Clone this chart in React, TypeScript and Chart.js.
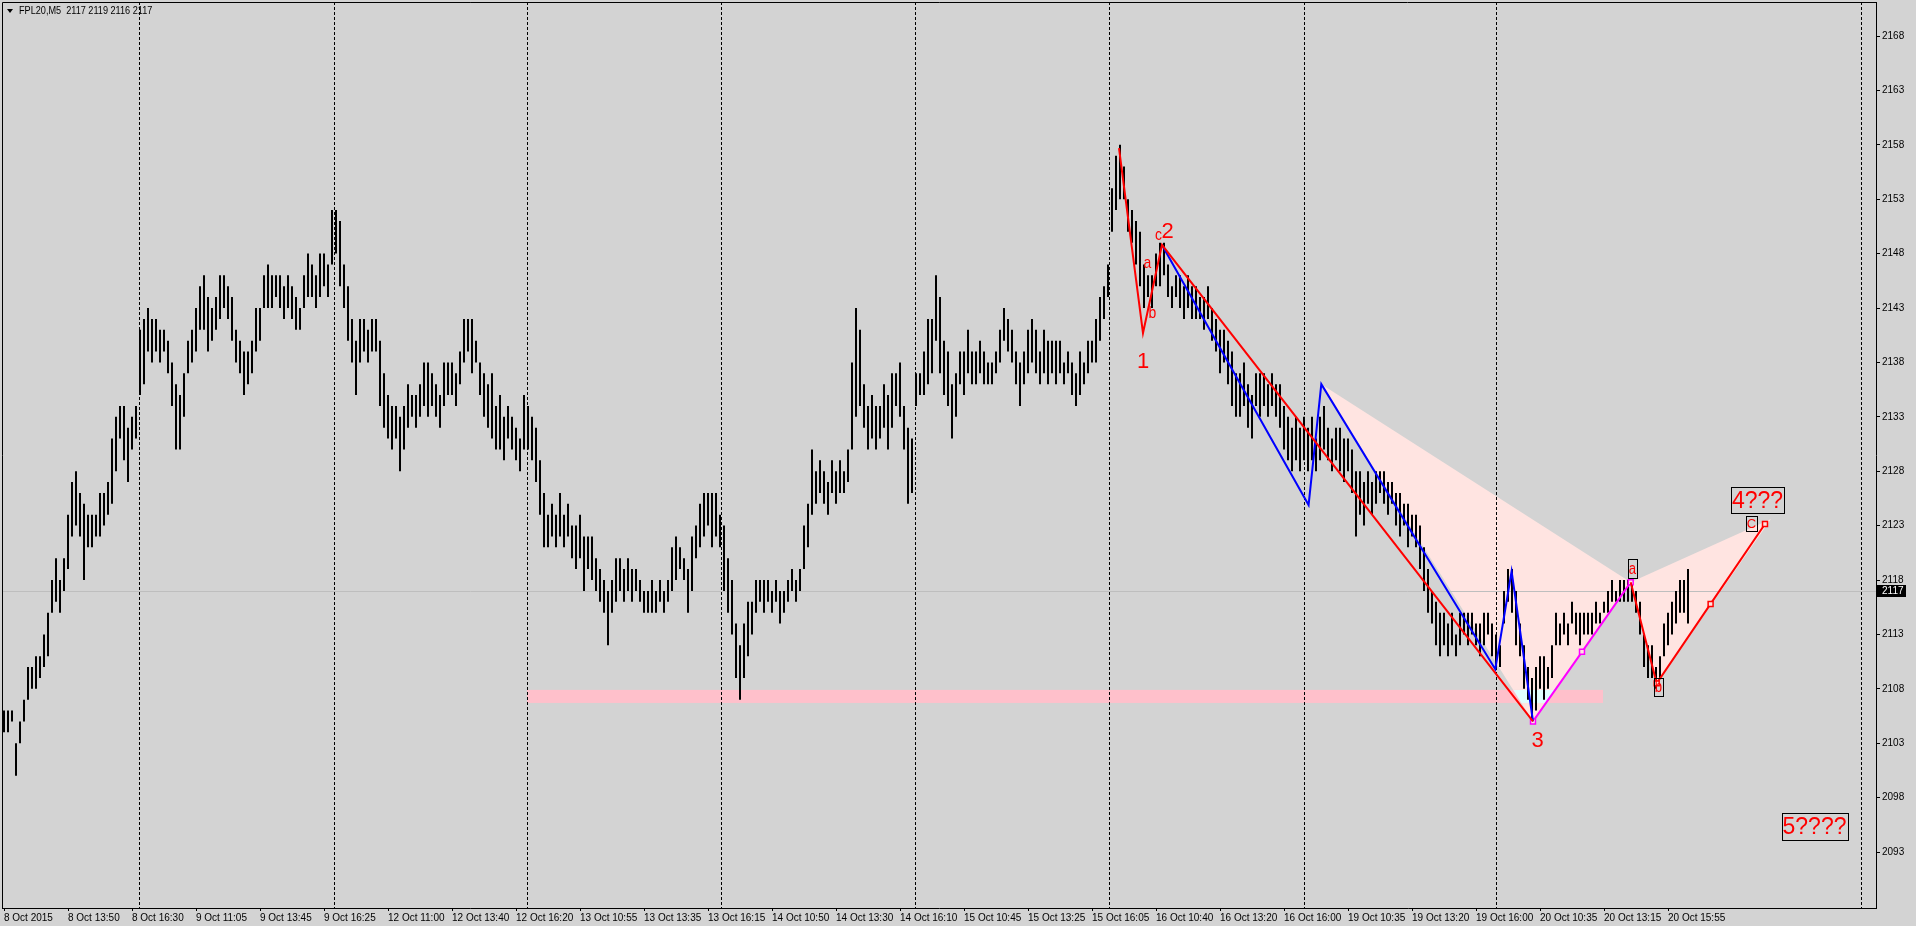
import React, { useEffect, useRef } from 'react';
import { Chart, registerables } from 'chart.js';

Chart.register(...registerables);

// ---- OHLC-style bars (low / high), one every two 5-minute slots ----
const LOWS = [
  2104,2104,2105,2100,2103,2105,2107,2108,2108,2109,2110,2111,2115,2116,2115,2117,2119,2122,2123,2122,2118,2121,2121,2122,2122,2123,2124,2125,2128,2131,2129,2127,2130,2131,
  2135,2136,2139,2138,2139,2138,2139,2137,2134,2130,2130,2133,2137,2138,2139,2141,2141,2139,2140,2141,2142,2143,2142,2140,2138,2137,2135,2136,2137,2139,2140,2143,2143,2143,2144,2143,2142,2143,2142,2141,2141,2143,2144,2144,2143,2144,2145,2144,2147,
  2148,2145,2143,2140,2138,2135,2138,2139,2138,2139,2139,2134,2132,2131,2130,2131,2128,2130,2132,2133,2132,2133,2134,2133,2134,2133,2132,2134,2135,2135,2134,2136,2138,2139,2137,2138,2135,2133,2132,2131,2130,2130,2129,2131,2130,2129,2128,2130,
  2130,2129,2127,2124,2121,2121,2122,2121,2122,2121,2122,2120,2119,2120,2117,2119,2118,2117,2116,2115,2112,2115,2116,2117,2116,2117,2116,2117,2116,2115,2115,2115,2115,2116,2115,2116,2117,2118,2119,2118,2115,2117,2120,2121,2122,2123,2121,2122,2121,
  2117,2115,2113,2109,2107,2109,2111,2113,2115,2116,2115,2116,2115,2116,2114,2115,2116,2117,2116,2117,2119,2121,2124,2125,2126,2125,2124,2126,2125,2126,2126,2127,2130,2133,2134,2132,2130,2131,2130,2131,2132,2130,2132,2134,2133,2130,2125,2126,
  2134,2135,2135,2136,2137,2140,2137,2135,2134,2131,2133,2136,2135,2137,2136,2136,2137,2136,2136,2136,2137,2138,2140,2139,2138,2136,2134,2136,2137,2138,2137,2136,2137,2136,2137,2136,2137,2136,2137,2135,2134,2135,2136,2137,2138,2138,2140,2142,2144,
  2150,2152,2153,2153,2150,2149,2147,2145,2143,2144,2143,2145,2145,2146,2144,2143,2144,2143,2142,2143,2142,2142,2142,2141,2142,2140,2139,2137,2138,2136,2134,2133,2133,2134,2132,2131,2134,2133,2134,2133,2134,2133,2132,2130,2129,2128,2129,2128,
  2129,2128,2129,2128,2129,2130,2129,2128,2129,2128,2127,2128,2126,2122,2124,2123,2125,2124,2125,2126,2125,2124,2125,2123,2122,2123,2121,2122,2121,2119,2117,2115,2114,2112,2111,2112,2111,2112,2111,2112,2113,2112,2113,2112,2111,2112,2113,2111,
  2110,2110,2114,2116,2115,2112,2111,2108,2107,2105,2106,2108,2107,2108,2109,2112,2112,2113,2112,2114,2113,2112,2113,2113,2113,2114,2114,2115,2115,2116,2116,2116,2116,2116,2116,2115,2113,2110,2109,2109,2108,2109,2111,2112,2113,2114,2115,2115,2114,
];
const HIGHS = [
  2106,2106,2106,2103,2105,2107,2110,2110,2111,2111,2113,2115,2118,2120,2118,2120,2124,2127,2128,2126,2125,2124,2124,2124,2126,2126,2127,2131,2133,2134,2134,2132,2133,2134,
  2141,2142,2143,2142,2142,2141,2141,2140,2138,2136,2135,2137,2140,2141,2143,2145,2146,2144,2143,2144,2146,2146,2145,2144,2141,2140,2139,2139,2140,2143,2143,2146,2147,2146,2146,2146,2145,2146,2145,2144,2143,2146,2148,2147,2146,2148,2148,2147,2152,
  2152,2151,2147,2145,2142,2140,2142,2142,2141,2142,2142,2140,2137,2135,2134,2134,2133,2134,2136,2135,2135,2136,2138,2138,2137,2136,2135,2138,2138,2138,2137,2139,2142,2142,2142,2140,2138,2137,2136,2137,2134,2135,2133,2134,2133,2132,2131,2135,
  2134,2133,2132,2129,2126,2124,2125,2124,2126,2124,2125,2123,2123,2124,2122,2122,2122,2120,2119,2118,2117,2118,2120,2120,2119,2120,2119,2119,2118,2117,2117,2118,2117,2118,2117,2118,2121,2122,2121,2120,2119,2122,2123,2125,2126,2126,2126,2126,2124,
  2123,2120,2118,2114,2112,2114,2116,2116,2118,2118,2118,2118,2117,2118,2117,2117,2118,2119,2118,2119,2123,2125,2130,2128,2129,2128,2127,2129,2128,2129,2128,2130,2138,2143,2141,2136,2134,2135,2134,2134,2136,2135,2137,2137,2138,2134,2132,2131,
  2137,2137,2139,2142,2142,2146,2144,2140,2139,2136,2137,2139,2139,2141,2139,2139,2140,2139,2138,2138,2139,2141,2143,2142,2141,2139,2138,2139,2141,2142,2141,2139,2141,2140,2140,2140,2140,2138,2139,2138,2137,2139,2138,2140,2140,2142,2144,2145,2147,
  2154,2157,2158,2156,2153,2152,2151,2150,2147,2146,2146,2148,2149,2149,2147,2145,2146,2146,2145,2146,2145,2145,2144,2144,2145,2143,2142,2141,2141,2140,2139,2137,2137,2138,2136,2135,2137,2137,2137,2136,2137,2136,2136,2134,2133,2132,2133,2132,
  2133,2132,2133,2131,2133,2134,2132,2131,2132,2132,2131,2131,2130,2128,2128,2127,2128,2127,2128,2128,2128,2127,2127,2126,2126,2125,2125,2124,2124,2123,2121,2119,2117,2116,2115,2115,2114,2115,2113,2115,2115,2115,2115,2114,2114,2115,2115,2114,
  2113,2112,2117,2119,2119,2117,2114,2112,2110,2109,2110,2111,2111,2110,2112,2115,2114,2115,2114,2116,2115,2115,2115,2115,2115,2116,2115,2116,2117,2118,2117,2118,2118,2118,2118,2117,2116,2113,2112,2112,2110,2111,2114,2115,2116,2117,2118,2118,2119,
];
const BAR_STEP = 2; // slots between drawn bars

const TIME_LABELS = [
  '8 Oct 2015', '8 Oct 13:50', '8 Oct 16:30', '9 Oct 11:05', '9 Oct 13:45', '9 Oct 16:25',
  '12 Oct 11:00', '12 Oct 13:40', '12 Oct 16:20', '13 Oct 10:55', '13 Oct 13:35', '13 Oct 16:15',
  '14 Oct 10:50', '14 Oct 13:30', '14 Oct 16:10', '15 Oct 10:45', '15 Oct 13:25', '15 Oct 16:05',
  '16 Oct 10:40', '16 Oct 13:20', '16 Oct 16:00', '19 Oct 10:35', '19 Oct 13:20', '19 Oct 16:00',
  '20 Oct 10:35', '20 Oct 13:15', '20 Oct 15:55',
];
const SLOTS_PER_LABEL = 32;
const PRICE_TICKS = [2168, 2163, 2158, 2153, 2148, 2143, 2138, 2133, 2128, 2123, 2118, 2113, 2108, 2103, 2098, 2093];
const DAY_SEPARATORS = [67.5, 165, 261.5, 358.5, 455.5, 552.5, 650, 746, 928.5];
const LAST_PRICE = 2117;
const TITLE = 'FPL20,M5  2117 2119 2116 2117';

// ---- wave markup ----
const RED_ZZ_K = [557.5, 569.5, 579, 764.5];
const RED_ZZ_P = [2157.7, 2140.7, 2148.8, 2105.0];
const BLUE_K = [579, 652.3, 658.65, 745.65, 753.8, 764.5];
const BLUE_P = [2148.8, 2124.9, 2136.0, 2109.8, 2118.8, 2105.0];
const MAG_K = [764.5, 789, 813.35];
const MAG_P = [2105.0, 2111.4, 2117.8];
const RED2_K = [813.35, 826.35, 853.3, 880.5];
const RED2_P = [2117.8, 2108.5, 2115.8, 2123.15];
const TRI1_K = [658.65, 813.35, 764.5];
const TRI1_P = [2136.0, 2117.8, 2105.0];
const TRI2_K = [813.35, 883.5, 826.35];
const TRI2_P = [2117.8, 2123.6, 2108.5];
const ZONE_K = [261.5, 799.5];
const ZONE_P = [2106.7, 2107.9];

const NOTES = [
  { t: '1', k: 569.5, p: 2137.49, size: 22, box: false },
  { t: '2', k: 581.75, p: 2149.39, size: 22, box: false },
  { t: 'c', k: 577.25, p: 2149.25, size: 17, box: false },
  { t: 'a', k: 571.75, p: 2146.68, size: 17, box: false },
  { t: 'b', k: 574.25, p: 2142.08, size: 17, box: false },
  { t: '3', k: 766.75, p: 2102.65, size: 22, box: false },
  { t: 'a', k: 814.25, p: 2118.55, size: 16, box: true },
  { t: 'b', k: 827.25, p: 2107.67, size: 16, box: true },
  { t: '4???', k: 876.75, p: 2124.62, size: 23, box: true },
  { t: 'C', k: 873.75, p: 2122.78, size: 13, box: true },
  { t: '5????', k: 905.25, p: 2094.65, size: 23, box: true },
];

const SANS = "'Liberation Sans', Arial, sans-serif";

const pts = (ks: number[], ps: number[]) => ks.map((k, i) => ({ x: k, y: ps[i] }));

const overlay = {
  id: 'overlay',
  beforeDatasetsDraw(chart: any) {
    const { ctx, chartArea: a, scales } = chart;
    const x = scales.x, y = scales.y;
    const path = (ks: number[], ps: number[]) => {
      ctx.beginPath();
      ks.forEach((k, i) => {
        const px = x.getPixelForValue(k), py = y.getPixelForValue(ps[i]);
        if (i) ctx.lineTo(px, py); else ctx.moveTo(px, py);
      });
      ctx.closePath();
    };
    ctx.save();
    ctx.beginPath();
    ctx.rect(a.left, a.top, a.right - a.left, a.bottom - a.top);
    ctx.clip();
    const zx1 = x.getPixelForValue(ZONE_K[0]), zx2 = x.getPixelForValue(ZONE_K[1]);
    const zy1 = y.getPixelForValue(ZONE_P[1]), zy2 = y.getPixelForValue(ZONE_P[0]);
    ctx.fillStyle = '#FFE4E1';
    path(TRI1_K, TRI1_P); ctx.fill();
    path(TRI2_K, TRI2_P); ctx.fill();
    ctx.fillStyle = '#FFC0CB';
    ctx.fillRect(zx1, zy1, zx2 - zx1, zy2 - zy1);
    ctx.save();
    path(TRI1_K, TRI1_P); ctx.clip();
    ctx.fillStyle = '#E0FFFF';
    ctx.fillRect(zx1, zy1, zx2 - zx1, zy2 - zy1);
    ctx.restore();
    // last price line
    const ly = Math.round(y.getPixelForValue(LAST_PRICE)) + 0.5;
    ctx.strokeStyle = '#BEBEBE';
    ctx.lineWidth = 1;
    ctx.beginPath(); ctx.moveTo(a.left, ly); ctx.lineTo(a.right, ly); ctx.stroke();
    // day separators
    ctx.strokeStyle = '#000';
    ctx.setLineDash([3, 2]);
    DAY_SEPARATORS.forEach((k) => {
      const px = Math.round(x.getPixelForValue(k)) + 0.5;
      ctx.beginPath(); ctx.moveTo(px, a.top); ctx.lineTo(px, a.bottom); ctx.stroke();
    });
    ctx.restore();
  },
  afterDatasetsDraw(chart: any) {
    const { ctx, chartArea: a, scales } = chart;
    const x = scales.x, y = scales.y;
    ctx.save();
    NOTES.forEach((n) => {
      ctx.font = `${n.size}px ${SANS}`;
      const cx = x.getPixelForValue(n.k), by = y.getPixelForValue(n.p);
      ctx.textAlign = 'center';
      ctx.textBaseline = 'alphabetic';
      const narrow = n.t.length === 1 && /[a-z]/.test(n.t);
      if (n.box) {
        const w = ctx.measureText(n.t).width * (narrow ? 0.82 : 1) + 2;
        const top = Math.round(by - n.size * 0.92) + 0.5;
        const bot = Math.round(by + n.size * 0.24) + 0.5;
        ctx.strokeStyle = '#000';
        ctx.lineWidth = 1;
        ctx.strokeRect(Math.round(cx - w / 2) + 0.5, top, Math.round(w), bot - top);
      }
      ctx.fillStyle = '#FF0000';
      if (narrow) {
        ctx.save();
        ctx.translate(cx, by);
        ctx.scale(0.82, 1);
        ctx.fillText(n.t, 0, 0);
        ctx.restore();
      } else {
        ctx.fillText(n.t, cx, by);
      }
    });
    ctx.strokeStyle = '#000';
    ctx.lineWidth = 1;
    ctx.beginPath();
    ctx.moveTo(a.left + 0.5, a.bottom);
    ctx.lineTo(a.left + 0.5, a.top + 0.5);
    ctx.lineTo(a.right, a.top + 0.5);
    ctx.stroke();
    ctx.restore();
  },
  afterDraw(chart: any) {
    const { ctx, scales } = chart;
    const y = scales.y;
    const ly = Math.round(y.getPixelForValue(LAST_PRICE));
    ctx.save();
    ctx.fillStyle = '#000';
    ctx.fillRect(y.left + 1, ly - 6, 29, 12);
    ctx.fillStyle = '#FFF';
    ctx.font = `10px ${SANS}`;
    ctx.textAlign = 'left';
    ctx.textBaseline = 'middle';
    ctx.fillText(String(LAST_PRICE), y.left + 6, ly + 0.5);
    ctx.restore();
  },
};

export default function App() {
  const ref = useRef<HTMLCanvasElement>(null);
  useEffect(() => {
    const canvas = ref.current as HTMLCanvasElement;
    const lineDs = (label: string, ks: number[], ps: number[], color: string, radii: number[]) => ({
      type: 'line',
      label,
      data: pts(ks, ps),
      borderColor: color,
      borderWidth: 2,
      pointStyle: 'rect',
      pointRadius: radii,
      pointBorderColor: color,
      pointBackgroundColor: '#FFE4E1',
      pointBorderWidth: 1.5,
      tension: 0,
      fill: false,
      order: 0,
    });
    const chart = new Chart(canvas, {
      type: 'bar',
      data: {
        datasets: [
          lineDs('red', RED_ZZ_K, RED_ZZ_P, '#FF0000', [0, 0, 0, 0]),
          lineDs('blue', BLUE_K, BLUE_P, '#0000FF', [0, 0, 0, 0, 0, 0]),
          lineDs('red2', RED2_K, RED2_P, '#FF0000', [0, 3.5, 3.5, 3.5]),
          lineDs('magenta', MAG_K, MAG_P, '#FF00FF', [3.5, 3.5, 3.5]),
          {
            type: 'bar',
            label: 'FPL20',
            data: LOWS.map((lo, i) => ({ x: i * BAR_STEP, y: [lo, HIGHS[i]] })),
            backgroundColor: '#000',
            borderWidth: 0,
            barThickness: 2,
            inflateAmount: 0,
            order: 1,
          } as any,
        ] as any,
      },
      options: {
        animation: false,
        responsive: false,
        devicePixelRatio: 1,
        layout: { autoPadding: false, padding: { left: 2, top: 2, right: 0, bottom: 0 } },
        plugins: { legend: { display: false }, tooltip: { enabled: false } },
        scales: {
          x: {
            type: 'linear',
            position: 'bottom',
            min: -1,
            max: 936,
            offset: false,
            afterBuildTicks: (s: any) => {
              s.ticks = TIME_LABELS.map((_, i) => ({ value: i * SLOTS_PER_LABEL }));
            },
            afterFit: (s: any) => {
              s.height = 18;
              s.paddingLeft = 0; s.paddingRight = 0; s.paddingTop = 0; s.paddingBottom = 0;
            },
            ticks: {
              autoSkip: false,
              maxRotation: 0,
              minRotation: 0,
              align: 'start',
              padding: 1,
              color: '#000',
              font: { family: SANS, size: 10 },
              callback: (_v: any, i: number) => TIME_LABELS[i],
            },
            grid: { drawOnChartArea: false, drawTicks: true, tickLength: 3, color: '#000', offset: false },
            border: { display: true, color: '#000', width: 1 },
          },
          y: {
            type: 'linear',
            position: 'right',
            min: 2087.853,
            max: 2171.125,
            afterBuildTicks: (s: any) => {
              s.ticks = PRICE_TICKS.map((v) => ({ value: v }));
            },
            afterFit: (s: any) => {
              s.width = 40;
              s.paddingLeft = 0; s.paddingRight = 0; s.paddingTop = 0; s.paddingBottom = 0;
            },
            ticks: {
              padding: 2,
              color: '#000',
              font: { family: SANS, size: 10 },
              callback: (v: any) => String(v),
            },
            grid: { drawOnChartArea: false, drawTicks: true, tickLength: 4, color: '#000' },
            border: { display: true, color: '#000', width: 1 },
          },
        },
      } as any,
      plugins: [overlay as any],
    });
    return () => chart.destroy();
  }, []);

  return (
    <div style={{ position: 'fixed', left: 0, top: 0, width: 1916, height: 926, background: '#D3D3D3', overflow: 'hidden' }}>
      <canvas ref={ref} width={1916} height={926} style={{ display: 'block', width: 1916, height: 926 }} />
      <div style={{ position: 'absolute', left: 7, top: 9, width: 0, height: 0, borderLeft: '3px solid transparent', borderRight: '3px solid transparent', borderTop: '4px solid #000' }} />
      <div style={{ position: 'absolute', left: 19, top: 5, font: `11px ${SANS}`, lineHeight: '11px', color: '#000', whiteSpace: 'pre', transform: 'scaleX(0.83)', transformOrigin: '0 0' }}>{TITLE}</div>
    </div>
  );
}
